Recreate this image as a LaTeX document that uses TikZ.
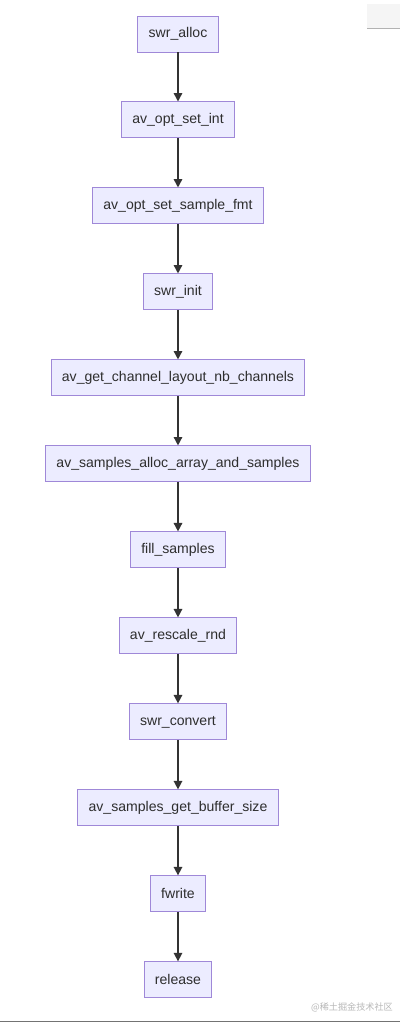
\documentclass[tikz,border=0pt]{standalone}
\usepackage{fontspec}
\setmainfont{Liberation Sans}
\newfontfamily\cjk{Noto Sans CJK SC}
\usetikzlibrary{positioning,arrows.meta}

\definecolor{boxfill}{HTML}{ECECFF}
\definecolor{boxline}{HTML}{9F88D8}
\definecolor{arrowline}{HTML}{333333}

\tikzset{
    callbox/.style={draw=boxline, fill=boxfill, line width=0.7pt, minimum height=0.9cm,
        inner xsep=0.27cm, font=\fontsize{10}{12}\selectfont, text=black!82},
    flow/.style={draw=arrowline, line width=1.1pt, -{Triangle[length=6pt,width=6pt]}}
}

\begin{document}
\begin{tikzpicture}[node distance=1.225cm]
    \useasboundingbox (0,0) rectangle (10,-25.65);
    \fill[white] (0,0) rectangle (10,-25.65);
    % screenshot leftovers
    \fill[black!4] (9.18,-0.1) rectangle (10,-0.72);
    \draw[black!30, line width=0.6pt] (9.18,-0.72) -- (10,-0.72);
    \draw[black!55, line width=0.8pt] (0,-25.53) -- (10,-25.53);
    \node[text=black!28, font=\cjk\fontsize{6.5}{7}\selectfont] (mark) at (8.8,-25.18) {@稀土掘金技术社区};

    % call sequence
    \node[callbox] (alloc) at (4.45,-0.85) {swr\_alloc};
    \node[callbox, below=of alloc] (optint) {av\_opt\_set\_int};
    \node[callbox, below=of optint] (optfmt) {av\_opt\_set\_sample\_fmt};
    \node[callbox, below=of optfmt] (init) {swr\_init};
    \node[callbox, below=of init] (nbch) {av\_get\_channel\_layout\_nb\_channels};
    \node[callbox, below=of nbch] (salloc) {av\_samples\_alloc\_array\_and\_samples};
    \node[callbox, below=of salloc] (fill) {fill\_samples};
    \node[callbox, below=of fill] (rescale) {av\_rescale\_rnd};
    \node[callbox, below=of rescale] (convert) {swr\_convert};
    \node[callbox, below=of convert] (bufsize) {av\_samples\_get\_buffer\_size};
    \node[callbox, below=of bufsize] (fwrite) {fwrite};
    \node[callbox, below=of fwrite] (release) {release};

    \foreach \a/\b in {alloc/optint, optint/optfmt, optfmt/init, init/nbch, nbch/salloc,
        salloc/fill, fill/rescale, rescale/convert, convert/bufsize, bufsize/fwrite, fwrite/release}
        \draw[flow] (\a) -- (\b);
\end{tikzpicture}
\end{document}
